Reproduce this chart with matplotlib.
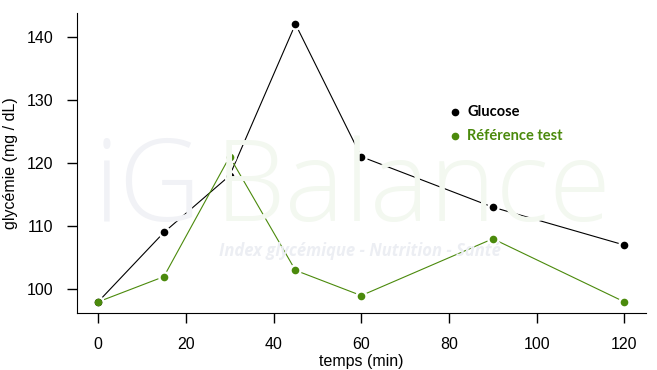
import matplotlib.pyplot as plt
from matplotlib.lines import Line2D

temps = [0, 15, 30, 45, 60, 90, 120]
glucose = [98, 109, 118, 142, 121, 113, 107]
reference = [98, 102, 121, 103, 99, 108, 98]
xticks = [0, 20, 40, 60, 80, 100, 120]
yticks = [100, 110, 120, 130, 140]

green = "#4b8a0c"
plt.rcParams["font.family"] = ["Liberation Sans", "DejaVu Sans"]

fig = plt.figure(figsize=(6.57, 3.70), dpi=100)
ax = fig.add_axes([0.1172, 0.154, 0.8653, 0.811])

# faint watermark behind the plot
fig.text(0.142, 0.403, "iG", fontsize=82, color="#f1f2f6", ha="left", va="baseline", zorder=0,
         family=["Open Sans", "DejaVu Sans"], fontweight="light")
fig.text(0.327, 0.403, "Balance", fontsize=81, color="#f3f8f0", ha="left", va="baseline", zorder=0,
         family=["Open Sans", "DejaVu Sans"], fontweight="light")
fig.text(0.333, 0.322, "Index glycémique - Nutrition - Santé", fontsize=12, color="#eceef3",
         style="italic", fontweight="bold", ha="left", va="center", zorder=0,
         family=["Open Sans", "DejaVu Sans"])
ax.patch.set_alpha(0)

# R type="b": lines broken around the points
for y, c in [(glucose, "black"), (reference, green)]:
    ax.plot(temps, y, color=c, lw=0.8, zorder=2)
for y, c in [(glucose, "black"), (reference, green)]:
    ax.plot(temps, y, ls="none", marker="o", ms=5.5, mfc=c, mec="white", mew=3.5, zorder=3)
    ax.plot(temps, y, ls="none", marker="o", ms=5.5, mfc=c, mec=c, mew=0, zorder=4)

ax.set_xlim(-4.8, 124.8)
ax.set_ylim(96.24, 143.76)
ax.set_xticks(xticks)
ax.set_yticks(yticks)
ax.tick_params(labelsize=11.5, length=7, width=1, pad=10)
ax.spines["top"].set_visible(False)
ax.spines["right"].set_visible(False)
ax.set_xlabel("temps (min)", fontsize=11.5, labelpad=2)
ax.set_ylabel("glycémie (mg / dL)", fontsize=11.5, labelpad=6)

# legend: dots plus bold text
leg = [("Glucose", "black"), ("Référence test", green)]
for i, (name, c) in enumerate(leg):
    yy = 0.697 - i * 0.065
    fig.add_artist(Line2D([0.693], [yy], transform=fig.transFigure, ls="none",
                          marker="o", ms=4.5, mfc=c, mec=c))
    fig.text(0.711, yy, name, color=c, fontsize=10.5, fontweight="bold", ha="left", va="center",
             family=["Lato", "DejaVu Sans"])

fig.savefig("out.png", dpi=100)
